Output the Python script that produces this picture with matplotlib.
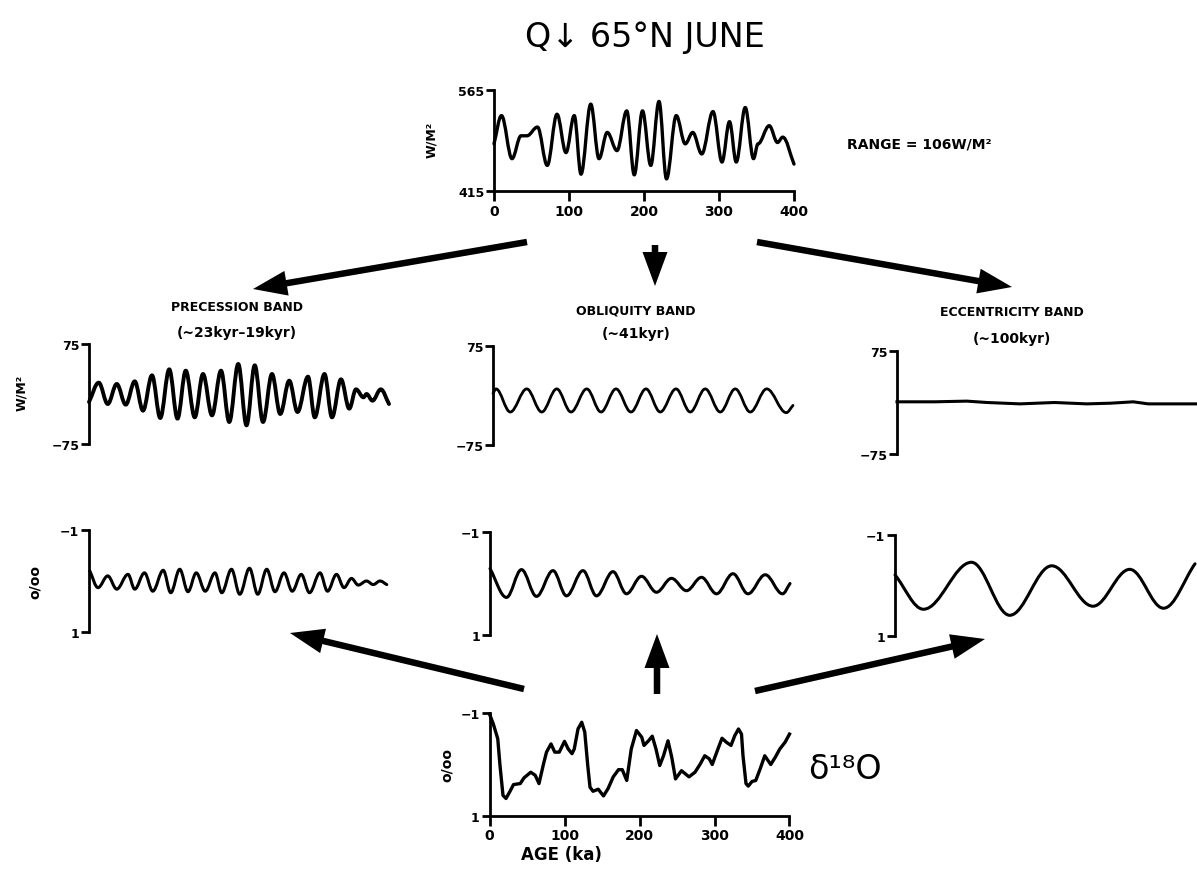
import matplotlib.pyplot as plt
from matplotlib.path import Path
from matplotlib.patches import PathPatch, FancyArrow

W, H = 1197, 870

# 65N June insolation (W/m2) vs age (ka)
insol_age = [0, 10, 24, 36, 44, 58, 71, 84, 96, 107, 116, 129, 140, 151, 164, 177, 187, 198,
             209, 220, 230, 243, 255, 265, 277, 292, 304, 314, 323, 335, 346, 352, 367, 378, 385, 400]
insol_q = [485, 527, 463, 497, 497, 510, 453, 529, 472, 527, 440, 544, 463, 502, 475, 534, 439, 534,
           453, 548, 433, 527, 485, 502, 470, 533, 458, 518, 458, 539, 463, 485, 512, 487, 495, 455]

# filtered insolation bands (W/m2)
prec_age = [0, 13, 25, 37, 49, 61, 72, 84, 95, 107, 118, 129, 141, 152, 164, 176, 187, 199, 210,
            221, 232, 244, 255, 267, 278, 292, 301, 314, 324, 336, 347, 356, 366, 370, 378, 389, 400]
prec_q = [-12, 17, -15, 15, -16, 19, -25, 28, -36, 37, -37, 35, -35, 30, -32, 35, -42, 45, -47,
          43, -42, 30, -30, 20, -27, 26, -35, 30, -35, 22, -22, 7, -5, 0, -10, 7, -15]

obl_age = [0, 4, 23, 45, 65, 85, 104, 125, 144, 164, 184, 204, 223, 244, 263, 283, 303, 323, 343, 365, 391, 400]
obl_q = [3, 10, -25, 10, -25, 10, -25, 10, -25, 10, -25, 10, -25, 10, -25, 10, -25, 10, -25, 10, -26, -15]

ecc_age = [0, 50, 93, 120, 164, 210, 253, 285, 315, 335, 360, 400]
ecc_q = [1, 1, 2, 0, -2, 0, -2, -1, 1, -2, -2, -2]

# filtered d18O bands (per mil)
pd_age = [1, 12, 25, 37, 52, 61, 74, 85, 99, 109, 121, 132, 143, 155, 168, 177, 190, 201, 214, 225,
          237, 248, 260, 271, 283, 294, 308, 318, 330, 340, 350, 359, 370, 379, 388, 397]
pd_val = [-0.2, 0.13, -0.1, 0.16, -0.13, 0.16, -0.16, 0.2, -0.21, 0.23, -0.23, 0.21, -0.16, 0.2,
          -0.16, 0.23, -0.23, 0.26, -0.25, 0.26, -0.23, 0.21, -0.16, 0.2, -0.13, 0.23, -0.16, 0.2,
          -0.13, 0.13, -0.05, 0.08, 0.0, 0.07, 0.0, 0.07]

od_age = [0, 22, 42, 62, 84, 102, 124, 142, 164, 182, 202, 222, 242, 262, 282, 302, 324, 344, 367, 390, 400]
od_val = [-0.29, 0.27, -0.27, 0.25, -0.25, 0.24, -0.25, 0.24, -0.23, 0.2, -0.14, 0.17, -0.1, 0.14,
          -0.12, 0.2, -0.19, 0.2, -0.17, 0.2, 0.0]

ed_age = [0, 38, 102, 153, 209, 264, 313, 358, 400]
ed_val = [-0.21, 0.47, -0.46, 0.59, -0.39, 0.41, -0.32, 0.45, -0.43]

# d18O record (per mil)
d18_age = [0, 5, 11, 14, 18, 22, 27, 32, 41, 46, 55, 61, 66, 72, 76, 82, 87, 93, 100, 105,
           110, 113, 118, 123, 127, 131, 134, 138, 145, 152, 158, 165, 172, 177, 183, 189, 196, 203, 206, 212,
           217, 222, 227, 232, 238, 243, 248, 256, 266, 274, 281, 287, 293, 297, 303, 310, 316, 322, 327, 332,
           336, 338, 342, 345, 350, 355, 361, 367, 375, 381, 387, 394, 400]
d18_val = [-0.98, -0.79, -0.5, 0.02, 0.6, 0.66, 0.53, 0.39, 0.37, 0.26, 0.15, 0.21, 0.37, -0.01, -0.24,
           -0.4, -0.24, -0.24, -0.45, -0.3, -0.21, -0.3, -0.69, -0.82, -0.63, 0.02, 0.44, 0.52, 0.48, 0.61,
           0.47, 0.24, 0.1, 0.1, 0.31, -0.3, -0.66, -0.53, -0.37, -0.46, -0.55, -0.3, 0.02, -0.17, -0.46,
           -0.14, 0.28, 0.12, 0.24, 0.15, -0.01, -0.17, -0.11, 0.0, -0.24, -0.51, -0.43, -0.37, -0.56, -0.69,
           -0.59, -0.17, 0.37, 0.42, 0.33, 0.31, 0.08, -0.17, 0.0, -0.14, -0.3, -0.43, -0.59]

age_ticks = [0, 100, 200, 300, 400]

plt.rcParams['font.family'] = ['DejaVu Sans']
fig = plt.figure(figsize=(W / 100, H / 100), dpi=100)


def rect(x0, ytop, ybot, w=300):
    return [x0 / W, 1 - ybot / H, w / W, (ybot - ytop) / H]


def panel(r, ylim, ylabels, xaxis=False):
    ax = fig.add_axes(r)
    ax.patch.set_visible(False)
    ax.set_xlim(0, 400)
    ax.set_ylim(*ylim)
    for s in ['top', 'right']:
        ax.spines[s].set_visible(False)
    ax.spines['left'].set_linewidth(2)
    ax.set_yticks(ylim)
    ax.set_yticklabels(ylabels, fontweight='bold', fontsize=9)
    ax.tick_params(axis='y', length=6, width=2, pad=1)
    if xaxis:
        ax.spines['bottom'].set_linewidth(2)
        ax.set_xticks(age_ticks)
        ax.set_xticklabels([str(t) for t in age_ticks], fontweight='bold', fontsize=10)
        ax.tick_params(axis='x', length=7, width=2, pad=2)
    else:
        ax.spines['bottom'].set_visible(False)
        ax.set_xticks([])
    return ax


def wave(ax, x, y, lw):
    # smooth curve through the extremes, flat tangents at each turning point
    verts = [(x[0], y[0])]
    codes = [Path.MOVETO]
    n = len(x)
    for i in range(n - 1):
        dx = x[i + 1] - x[i]
        dy = y[i + 1] - y[i]
        c1 = (x[i] + dx * 0.36, y[i] + (dy * 0.36 if i == 0 else 0))
        c2 = (x[i + 1] - dx * 0.36, y[i + 1] - (dy * 0.36 if i == n - 2 else 0))
        verts += [c1, c2, (x[i + 1], y[i + 1])]
        codes += [Path.CURVE4] * 3
    ax.add_patch(PathPatch(Path(verts, codes), fill=False, lw=lw, color='black',
                           capstyle='round', joinstyle='round', clip_on=False))


# top: insolation
ax = panel(rect(494, 91, 192), (415, 565), ['415', '565'], xaxis=True)
wave(ax, insol_age, insol_q, 2.4)

# insolation bands
ax = panel(rect(89, 345, 445), (-75, 75), ['\u221275', '75'])
wave(ax, prec_age, prec_q, 2.8)
ax = panel(rect(493, 347, 446), (-75, 75), ['\u221275', '75'])
wave(ax, obl_age, obl_q, 2.0)
ax = panel(rect(897, 352, 455), (-75, 75), ['\u221275', '75'])
ax.plot(ecc_age, ecc_q, color='black', lw=2.2, clip_on=False)

# d18O bands (axis inverted: -1 on top)
ax = panel(rect(89, 531, 633), (1, -1), ['1', '\u22121'])
wave(ax, pd_age, pd_val, 2.2)
ax = panel(rect(490, 533, 636), (1, -1), ['1', '\u22121'])
wave(ax, od_age, od_val, 2.2)
ax = panel(rect(895, 536, 637), (1, -1), ['1', '\u22121'])
wave(ax, ed_age, ed_val, 2.2)

# bottom: d18O record
ax = panel(rect(489.5, 714, 817), (1, -1), ['1', '\u22121'], xaxis=True)
ax.plot(d18_age, d18_val, color='black', lw=2.4, clip_on=False, solid_joinstyle='round')

# overlay in pixel coordinates for arrows and labels
ov = fig.add_axes([0, 0, 1, 1])
ov.set_xlim(0, W)
ov.set_ylim(H, 0)
ov.axis('off')
ov.patch.set_visible(False)

arrows = [((527, 243), (253, 290)), ((655, 246), (655, 287)), ((757, 243), (1012, 288)),
          ((524, 690), (290, 634)), ((657, 695), (657, 635)), ((755, 692), (985, 640))]
for (x0, y0), (x1, y1) in arrows:
    ov.add_patch(FancyArrow(x0, y0, x1 - x0, y1 - y0, width=6.5, head_width=25, head_length=34,
                            length_includes_head=True, color='black', lw=0))

ov.text(645, 38, 'Q\u2193 65\u00b0N JUNE', ha='center', va='center', fontsize=24)
ov.text(919, 145, 'RANGE = 106W/M\u00b2', ha='center', va='center', fontsize=10, fontweight='bold')
ov.text(432, 140, 'W/M\u00b2', ha='center', va='center', rotation=90, fontsize=9, fontweight='bold')
ov.text(22, 393, 'W/M\u00b2', ha='center', va='center', rotation=90, fontsize=9, fontweight='bold')
ov.text(35, 582, 'o/oo', ha='center', va='center', rotation=90, fontsize=10, fontweight='bold')
ov.text(447, 765, 'o/oo', ha='center', va='center', rotation=90, fontsize=10, fontweight='bold')

ov.text(237, 308, 'PRECESSION BAND', ha='center', va='center', fontsize=9, fontweight='bold')
ov.text(237, 333, '(~23kyr\u201319kyr)', ha='center', va='center', fontsize=10, fontweight='bold')
ov.text(636, 311, 'OBLIQUITY BAND', ha='center', va='center', fontsize=9, fontweight='bold')
ov.text(636, 334, '(~41kyr)', ha='center', va='center', fontsize=10, fontweight='bold')
ov.text(1012, 313, 'ECCENTRICITY BAND', ha='center', va='center', fontsize=9, fontweight='bold')
ov.text(1012, 339, '(~100kyr)', ha='center', va='center', fontsize=10, fontweight='bold')

ov.text(561, 855, 'AGE (ka)', ha='center', va='center', fontsize=12, fontweight='bold')
ov.text(845, 770, '\u03b4\u00b9\u2078O', ha='center', va='center', fontsize=24)

fig.savefig('out.png', dpi=100)
